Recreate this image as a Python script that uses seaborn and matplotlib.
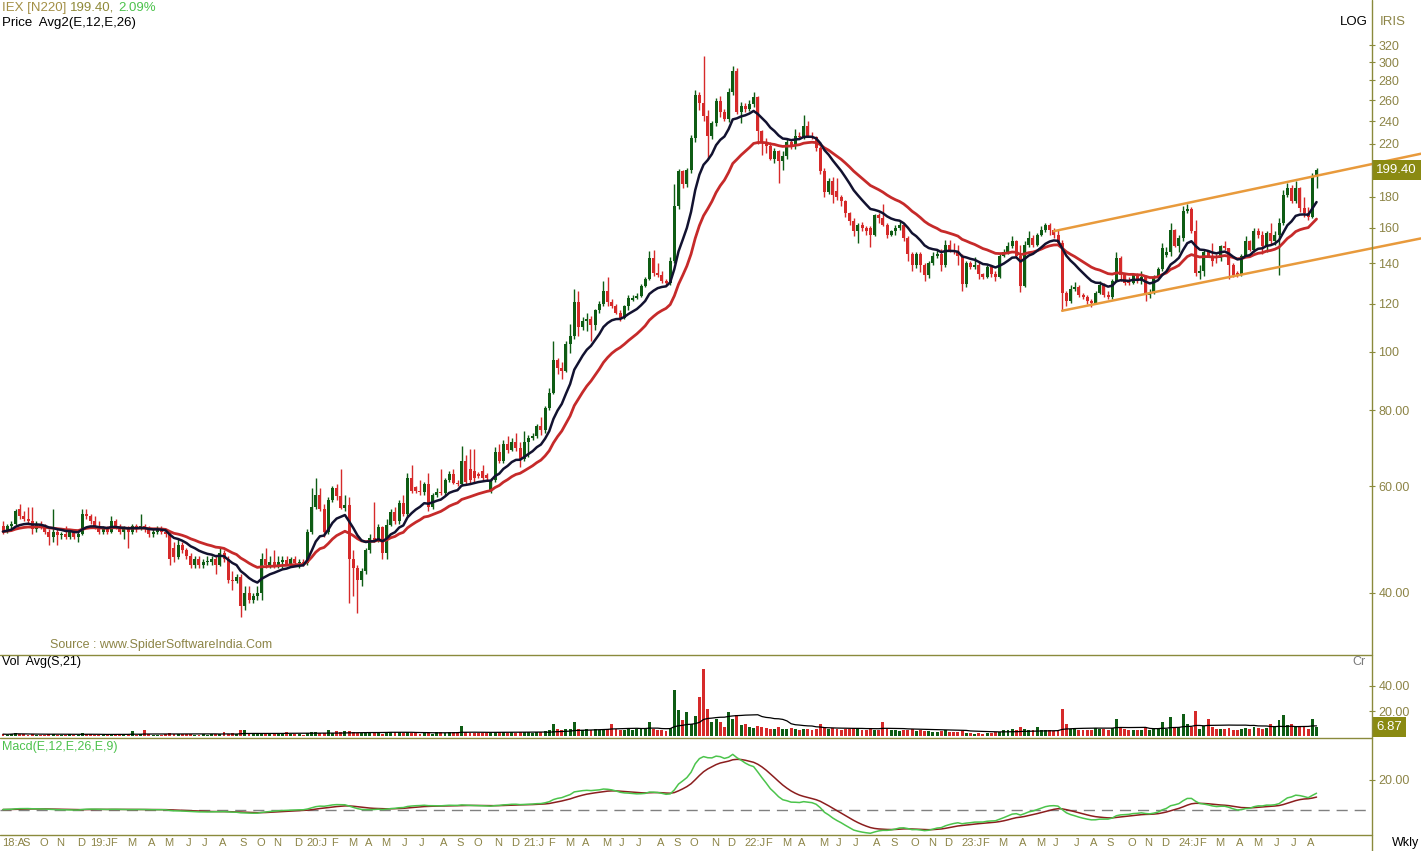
import numpy as np
import pandas as pd
import matplotlib
matplotlib.use("Agg")
import matplotlib.pyplot as plt
from matplotlib.lines import Line2D
from matplotlib.ticker import FixedLocator, FuncFormatter, NullLocator, NullFormatter
import seaborn as sns

# weekly bars, first bar = week of 3 Aug 2018
first_week = "2018-08-03"

opens = [
    51.5, 50.5, 51.5, 52, 55, 53.5, 53, 52.5, 51, 52,
    51.5, 50.5, 49.5, 50.5, 49.8, 50, 49.5, 50.5, 49.5, 50,
    54, 53.5, 52.5, 51.5, 50.5, 51, 50.5, 52.5, 51.5, 50.5,
    51, 50.5, 51.5, 51, 51.5, 51, 50, 50.5, 51, 50.5,
    50, 47.5, 45.8, 48, 47, 46, 44.5, 45.5, 44.5, 45,
    45, 45.5, 44.5, 46.5, 45.5, 42, 41.8, 42.5, 38, 40,
    39, 39.5, 40, 45.5, 44.5, 45, 44.5, 45, 45.3, 44.6,
    45.5, 44.8, 45, 44.8, 50.5, 55.5, 58, 55, 50.5, 57,
    59.5, 57.8, 55.3, 55.8, 45.5, 44, 42, 43.5, 47, 49.3,
    48.8, 51.3, 46.5, 51.8, 54.4, 52.6, 56.2, 54, 62, 59.8,
    59, 58.6, 60.5, 55.5, 58, 58.6, 58.5, 61.4, 62.8, 60.8,
    60.5, 66, 64, 63.5, 62.8, 63.5, 62.6, 59, 61.4, 68.3,
    66, 70.5, 68.7, 71, 69.3, 66.5, 70.9, 72, 72.5, 75.3,
    74.2, 80.6, 85.4, 96.7, 94, 93, 103, 106, 120.6, 110,
    112.5, 113, 110.5, 117, 120, 126, 120.6, 119, 116, 113.6,
    118.8, 121.8, 122.5, 123.5, 128.5, 132, 142.5, 134.6, 134, 131,
    129.8, 141, 174, 198.5, 189, 199, 225, 265, 257, 245,
    227, 238, 259, 248, 242, 268, 290, 248, 254, 251,
    256, 263, 231, 222, 218, 208, 214, 206, 210, 222,
    218, 227, 226, 236, 227, 226, 217, 198.7, 183, 191,
    184, 180, 177, 169, 164, 158, 162, 160, 160, 156,
    168, 166, 162, 156, 158, 160, 162, 154, 145, 139,
    145, 139, 134, 140, 144, 145, 139, 150, 147, 146,
    144, 129.5, 140, 138, 139, 134.5, 133, 138, 134.5, 133,
    143.6, 146, 149.5, 152, 144, 128.5, 150, 154, 150, 156,
    159, 162, 159, 156, 151, 125, 121, 127, 128, 124,
    123, 121.4, 120.5, 125, 129, 124, 123, 131, 142.5, 134,
    131, 130, 134.5, 131, 133, 124, 125, 133, 137, 144.5,
    146, 158.7, 149.5, 154, 170.8, 172, 158.3, 134.6, 136, 146,
    143.6, 144, 142.5, 149.5, 148, 139, 135, 134, 144, 152,
    147, 158, 155.5, 149.5, 157, 152, 156, 163, 181, 186.5,
    177.4, 186.5, 172.7, 169, 167, 195,
]

highs = [
    52.5, 52, 52.5, 55, 56, 54.5, 55.5, 55.5, 52.5, 52.5,
    52, 51, 55, 51, 50.5, 51.5, 51, 51, 50.5, 55,
    55, 54, 53.5, 52.5, 51.5, 51.5, 53.5, 53, 52, 51.5,
    51.5, 52, 52, 54, 52, 51.5, 51, 51.5, 51.5, 51,
    50.5, 48.5, 49, 48.5, 47.5, 46.5, 46, 46, 45.5, 46,
    46, 46, 47.5, 47, 46, 43.5, 43, 43, 41, 41,
    40, 41, 46.5, 47.5, 46, 47, 46, 46, 46, 45.8,
    46, 45.5, 45.5, 51, 59.5, 62, 59.5, 56, 57.5, 60,
    60.5, 64, 58, 57.5, 47, 44.5, 44, 47.5, 50, 56.5,
    52, 51.5, 53, 55, 55.5, 57, 58, 63, 65, 60,
    61.5, 61, 63, 58.5, 59.5, 64, 61.8, 63.5, 64, 61.5,
    70, 67.5, 69, 69, 63.2, 65, 63, 62, 69.5, 70.5,
    71.5, 72.5, 72, 73.5, 71, 74, 73, 73.5, 76, 78,
    81.5, 87, 104, 97.5, 96, 104, 111, 127, 126, 114,
    116, 114.5, 117.5, 121, 131, 133, 122, 120, 117, 119.5,
    124, 124, 125, 129.5, 133, 146.5, 147, 140, 136, 132,
    143, 189, 200, 199, 201, 228, 270, 268, 307, 250,
    240, 262, 264, 251, 272, 296, 294, 258, 257, 260,
    268, 264, 232, 225, 222, 217, 215, 214, 224, 224,
    233, 230, 246, 240, 230, 227, 218, 201, 193, 194,
    193, 181, 178, 170, 166, 163, 163.5, 161, 161, 168.5,
    169, 175, 163, 159, 162, 164, 163, 155, 146, 146,
    146, 140, 141, 146, 147, 147.5, 153, 153, 151, 150,
    145, 141, 141, 143, 141, 135, 139, 139, 136, 145,
    147.5, 151.5, 155, 153, 150, 152, 158, 156, 157, 161,
    163, 163, 160, 159, 153, 126, 129, 130.5, 129, 125,
    124, 122, 126, 131, 130, 126, 132, 146, 144, 134.5,
    133, 135, 135, 136, 134, 127, 134, 138, 151, 149,
    163, 159.5, 156, 174, 175, 173, 165, 139, 147, 147,
    151, 145, 150, 152, 148.5, 140, 136, 145, 155, 153,
    160, 160, 158, 158, 163, 158, 166, 185, 190, 188,
    191, 187, 180, 173, 197, 201,
]

lows = [
    50, 50.3, 51, 51.8, 53, 52.5, 52, 50, 50.5, 51,
    50, 48, 48.5, 48, 49, 49, 49, 49, 48.5, 49.8,
    53, 52, 51, 50, 50, 50, 50.3, 51, 50, 49,
    47.5, 50, 50.5, 50.8, 50.5, 49.5, 49.5, 50, 50, 49.5,
    44.5, 45, 45.5, 46.5, 45.5, 44, 44, 44, 44, 44.5,
    44.5, 43, 44.3, 45, 41.5, 40.5, 41.5, 36.5, 37.5, 38.5,
    38.5, 39, 39, 44, 44, 44, 44, 44, 44.5, 44.3,
    44.5, 44, 44.3, 44.5, 50, 55, 54.5, 49.5, 50, 56.5,
    57, 55, 54.5, 38.5, 39.5, 37, 41, 43, 46.5, 48.5,
    48.5, 45.5, 45.5, 51.5, 52, 52, 53.5, 53.5, 58.5, 58.5,
    58, 58, 54.5, 55, 57.5, 58, 58, 61, 60.5, 60,
    60, 60.5, 60.5, 61, 61.8, 61.5, 61.5, 58.5, 61, 65.5,
    65.5, 68, 68.5, 68.5, 64.5, 66, 67, 71.5, 72, 73,
    73.5, 80, 85, 92, 90, 92.5, 99.5, 105, 106, 108.5,
    108, 104, 108.5, 116, 119, 119, 118, 115.5, 112.5, 113,
    117, 121, 122, 123, 128, 131.5, 133.5, 133, 130, 129,
    129, 140, 172, 186, 187, 197, 222, 250, 240, 208,
    224, 236, 244, 240, 239, 265, 247, 238, 248, 249,
    253, 220, 211, 213, 207, 205, 190, 199, 208, 216,
    216, 225, 224, 226, 224, 214, 196, 180, 182, 176,
    178, 174, 167, 162, 155, 151, 158, 156, 149, 155,
    163, 161, 154, 155, 156, 159, 152, 141, 136, 137.5,
    135.5, 131, 132.5, 139, 142.5, 136, 138, 146, 145, 139,
    126, 128, 137, 137, 132, 132, 132.5, 133, 131, 132.5,
    143, 145, 148, 143, 125.5, 128, 149, 149, 149.5, 155,
    157.5, 156, 154, 150, 116.5, 119, 120.5, 126, 123, 122,
    120, 118.5, 120, 124.5, 123, 122, 122, 130.5, 131, 129,
    129, 129.5, 130, 129.5, 121, 122.5, 124.5, 132.5, 136, 143,
    144, 149, 146, 152, 169, 157, 133.5, 132, 133.5, 143,
    138.5, 140, 141, 147, 132, 133, 133, 133.5, 143, 146.5,
    146, 154, 145, 146, 150.5, 150, 134, 162, 180, 176,
    176, 170, 167, 165, 166, 186,
]

closes = [
    50.5, 51.5, 52, 54.5, 53.5, 53, 52.5, 51, 52, 51.5,
    50.5, 49.5, 50.5, 49.8, 50, 49.5, 50.5, 49.5, 50, 54,
    53.5, 52.5, 51.5, 50.5, 51, 50.5, 52.5, 51.5, 50.5, 51,
    50.5, 51.5, 51, 51.5, 51, 50, 50.5, 51, 50.5, 50,
    45.5, 45.8, 48, 47, 46, 44.5, 45.5, 44.5, 45, 45,
    45.5, 44.5, 46.5, 45.5, 42, 41.8, 42.5, 38, 40, 39,
    39.5, 40, 45.5, 44.5, 45, 44.5, 45, 45.3, 44.6, 45.5,
    44.8, 45, 44.8, 50.5, 55.5, 58, 55, 50.5, 57, 59.5,
    57.8, 55.3, 55.8, 45.5, 44, 42, 43.5, 47, 49.3, 48.8,
    51.3, 46.5, 51.8, 54.4, 52.6, 56.2, 54, 62, 59, 59,
    58.6, 60.5, 55.5, 58, 58.6, 58.5, 61.4, 62.8, 60.8, 60.5,
    66, 61, 61.4, 62, 62.3, 62, 62, 61.4, 68.3, 66,
    70.5, 68.7, 71, 69.3, 66.5, 70.9, 72, 72.5, 75.3, 74.2,
    80.6, 85.4, 96.7, 94, 93, 103, 106, 120.6, 110, 112.5,
    113, 110.5, 117, 120, 126, 120.6, 119, 116, 113.6, 118.8,
    122.5, 122.5, 123.5, 128.5, 132, 142.5, 134.6, 134, 131, 129.8,
    141, 174, 198.5, 189, 199, 225, 265, 257, 245, 227,
    238, 259, 248, 242, 268, 290, 248, 254, 251, 256,
    263, 231, 222, 218, 208, 214, 206, 210, 222, 218,
    227, 226, 236, 227, 226, 217, 198.7, 183, 191, 181.5,
    180, 177, 169, 164, 158, 162, 160, 158, 156, 168,
    166, 162, 156, 158, 160, 162, 154, 145, 139, 145,
    139, 134, 140, 144, 145, 139, 150, 147, 146, 144,
    129.5, 140, 138, 139, 134.5, 133, 138, 134.5, 133, 143.6,
    146, 149.5, 152, 144, 128.5, 150, 154, 150, 156, 159,
    162, 159, 156, 151, 125, 121, 127, 128, 124, 123,
    121.4, 120.5, 125, 129, 124, 123, 131, 142.5, 134, 130,
    130, 134.5, 131, 133, 124, 125, 133, 137, 148, 146,
    158.7, 149.5, 154, 170.8, 172, 158.3, 134.6, 136, 146, 143.6,
    141, 142.5, 149.5, 148, 139, 134, 134, 144, 152, 147,
    158, 155.5, 149.5, 157, 152, 156, 163, 181, 186.5, 177.4,
    186.5, 172.7, 169, 167, 195, 199.4,
]

# volume in crore
volumes = [
    1.5, 1.2, 1.8, 2.5, 1.6, 1.3, 1.2, 1.5, 1.1, 1.0,
    1.2, 1.4, 1.8, 1.2, 1.1, 1.0, 1.3, 1.2, 1.0, 2.2,
    1.6, 1.3, 1.1, 1.0, 1.2, 1.1, 2.0, 1.4, 1.2, 1.1,
    1.2, 4.0, 1.2, 1.5, 4.5, 1.3, 1.1, 1.2, 1.0, 1.3,
    2.5, 2.0, 1.8, 1.4, 1.3, 1.5, 1.2, 1.1, 1.3, 1.2,
    1.4, 1.6, 1.8, 3.0, 2.0, 2.2, 1.8, 5.0, 5.0, 2.0,
    1.8, 1.6, 2.8, 1.8, 1.5, 1.4, 1.6, 1.5, 3.0, 1.6,
    1.4, 1.3, 1.2, 2.8, 3.5, 3.0, 2.5, 2.5, 5.0, 2.5,
    4.0, 3.0, 4.0, 4.0, 3.0, 2.5, 2.2, 2.5, 2.3, 2.6,
    2.2, 2.0, 2.4, 3.5, 3.0, 3.5, 2.4, 3.0, 2.6, 2.2,
    2.0, 2.2, 2.5, 2.0, 3.0, 3.2, 2.8, 3.0, 3.0, 3.5,
    8.0, 3.0, 2.8, 2.6, 2.5, 2.4, 2.2, 2.5, 3.5, 3.0,
    3.2, 2.8, 3.0, 2.6, 3.0, 3.2, 3.0, 2.8, 3.2, 3.0,
    4.0, 4.5, 10.0, 6.0, 5.0, 6.0, 5.5, 11.5, 6.0, 5.0,
    5.5, 5.0, 5.5, 5.0, 6.0, 5.5, 10.0, 5.5, 5.0, 5.0,
    5.5, 5.0, 6.0, 6.5, 6.0, 11.5, 6.0, 5.0, 4.5, 4.0,
    6.5, 37.0, 21.0, 13.0, 19.0, 10.0, 16.0, 31.0, 54.0, 22.0,
    11.0, 14.0, 11.0, 7.0, 19.5, 14.0, 17.0, 9.0, 10.0, 7.0,
    6.5, 8.0, 7.0, 6.5, 6.0, 5.5, 7.0, 6.0, 5.5, 6.5,
    5.5, 5.0, 6.0, 5.5, 5.0, 6.0, 10.0, 7.5, 6.0, 6.5,
    6.0, 5.0, 5.5, 6.0, 6.5, 5.5, 5.0, 4.5, 5.5, 5.0,
    5.0, 11.5, 5.5, 4.5, 5.0, 4.0, 4.5, 5.0, 5.5, 4.0,
    4.5, 4.0, 4.0, 3.5, 3.5, 4.0, 5.0, 3.5, 3.0, 3.0,
    4.0, 2.5, 2.5, 2.0, 2.5, 2.0, 2.5, 2.5, 3.0, 3.5,
    4.5, 5.0, 6.0, 4.5, 7.0, 6.0, 5.0, 4.5, 7.0, 5.0,
    4.5, 4.5, 4.0, 5.0, 22.0, 10.0, 6.0, 5.5, 5.0, 4.5,
    5.0, 5.0, 6.5, 6.0, 5.5, 5.0, 6.5, 14.0, 7.0, 5.5,
    5.0, 5.0, 4.5, 5.0, 6.5, 5.0, 5.5, 6.5, 11.0, 6.0,
    15.0, 7.0, 7.0, 18.0, 10.0, 7.5, 20.0, 6.0, 8.0, 14.0,
    7.0, 5.5, 6.0, 5.5, 6.5, 5.0, 5.0, 6.0, 6.5, 5.5,
    7.0, 6.5, 6.0, 6.5, 10.0, 7.0, 13.0, 17.0, 9.0, 10.0,
    7.0, 8.0, 8.0, 6.0, 14.0, 6.87,
]

# channel lines drawn on the chart (bar index, price at each end)
upper_channel_x = [252, 340]
upper_channel_y = [158.0, 212.0]
lower_channel_x = [254, 340]
lower_channel_y = [116.8, 153.7]

price_ticks = [40, 60, 80, 100, 120, 140, 160, 180, 220, 240, 260, 280, 300, 320]
vol_ticks = [20, 40]
macd_ticks = [20]

last_price = 199.40
pct_change = 2.09
last_volume = 6.87

GREEN = "#0e5c14"
RED = "#d62a2a"
OLIVE = "#8a8a3c"
LABEL = "#8c8446"
BOX = "#8a8a12"

df = pd.DataFrame({"open": opens, "high": highs, "low": lows,
                   "close": closes, "volume": volumes})
df["date"] = pd.date_range(first_week, periods=len(df), freq="W-FRI")
df["i"] = np.arange(len(df))
df["ema12"] = df["close"].ewm(span=12, adjust=False).mean()
df["ema26"] = df["close"].ewm(span=26, adjust=False).mean()
df["macd"] = df["ema12"] - df["ema26"]
df["signal"] = df["macd"].ewm(span=9, adjust=False).mean()
df["vol_avg"] = df["volume"].rolling(21, min_periods=1).mean()
colors = np.where(df["close"] >= df["open"], GREEN, RED)

sns.set_style("white")
plt.rcParams["font.family"] = ["Liberation Sans", "DejaVu Sans"]

W, H = 1421, 851
fig = plt.figure(figsize=(W / 100, H / 100), dpi=100)


def place(x0, y0, x1, y1):
    return [x0 / W, 1 - y1 / H, (x1 - x0) / W, (y1 - y0) / H]


ax_p = fig.add_axes(place(0, 35, 1372, 655))
ax_v = fig.add_axes(place(0, 655, 1372, 738), sharex=ax_p)
ax_m = fig.add_axes(place(0, 738, 1372, 835), sharex=ax_p)

# price candles + averages
ax_p.set_yscale("log")
ax_p.vlines(df["i"], df["low"], df["high"], colors=colors, linewidth=1.0)
body_lo = np.minimum(df["open"], df["close"])
body_h = np.maximum((df["close"] - df["open"]).abs(), df["close"] * 0.004)
ax_p.bar(df["i"], body_h, bottom=body_lo, width=0.72, color=colors, linewidth=0)
sns.lineplot(data=df, x="i", y="ema26", ax=ax_p, color="#c62a2a", linewidth=2.0, legend=False)
sns.lineplot(data=df, x="i", y="ema12", ax=ax_p, color="#121230", linewidth=1.8, legend=False)
ax_p.plot(upper_channel_x, upper_channel_y, color="#e89a3c", linewidth=1.8, clip_on=False, zorder=4)
ax_p.plot(lower_channel_x, lower_channel_y, color="#e89a3c", linewidth=1.8, clip_on=False, zorder=4)
ax_p.set_ylim(31.6, 332.8)

# volume
ax_v.bar(df["i"], df["volume"], width=0.7, color=colors, linewidth=0)
sns.lineplot(data=df, x="i", y="vol_avg", ax=ax_v, color="black", linewidth=0.9, legend=False)
ax_v.set_ylim(-1.6, 64.8)

# macd
ax_m.axhline(0, color="#808080", linewidth=1, linestyle=(0, (8, 5)))
sns.lineplot(data=df, x="i", y="signal", ax=ax_m, color="#8b1e1e", linewidth=1.1, legend=False)
sns.lineplot(data=df, x="i", y="macd", ax=ax_m, color="#4cc44c", linewidth=1.1, legend=False)
ax_m.set_ylim(-17.2, 48.3)

for ax in (ax_p, ax_v, ax_m):
    for s in ax.spines.values():
        s.set_visible(False)
    ax.set_xlabel("")
    ax.set_ylabel("")
    ax.grid(False)
    ax.yaxis.tick_right()
    ax.tick_params(axis="y", which="both", direction="inout", length=5, width=0.8,
                   color=OLIVE, labelcolor=LABEL, labelsize=9, pad=2)

ax_p.yaxis.set_major_locator(FixedLocator(price_ticks))
ax_p.yaxis.set_minor_locator(NullLocator())
ax_p.yaxis.set_major_formatter(FuncFormatter(lambda v, _: f"{v:.2f}" if v < 100 else f"{v:.0f}"))
ax_v.yaxis.set_major_locator(FixedLocator(vol_ticks))
ax_v.yaxis.set_major_formatter(FuncFormatter(lambda v, _: f"{v:.2f}"))
ax_m.yaxis.set_major_locator(FixedLocator(macd_ticks))
ax_m.yaxis.set_major_formatter(FuncFormatter(lambda v, _: f"{v:.2f}"))

# month ticks: one letter per month, year prefix on January
new_month = df["date"].dt.month != df["date"].dt.month.shift()
month_rows = df[new_month]
tick_pos = (month_rows["i"] - 0.5).tolist()
ax_m.xaxis.set_major_locator(FixedLocator(tick_pos))
ax_m.xaxis.set_major_formatter(NullFormatter())
for ax in (ax_p, ax_v):
    ax.tick_params(axis="x", bottom=False, labelbottom=False)
ax_m.tick_params(axis="x", direction="out", length=3, width=0.8, color=OLIVE)
ax_p.set_xlim(-0.72, 328.3)

for k, (pos, d) in enumerate(zip(tick_pos, month_rows["date"])):
    letter = "JFMAMJJASOND"[d.month - 1]
    if k == 0 or d.month == 1:
        letter = f"{d.year % 100:02d}:{letter}"
        dx = -3 if k else 1
    else:
        dx = 1
    ax_m.annotate(letter, xy=(pos, 0), xycoords=ax_m.get_xaxis_transform(),
                  xytext=(dx, -3), textcoords="offset pixels", ha="left", va="top",
                  fontsize=8, color=LABEL, annotation_clip=False)

# last value boxes
ax_p.annotate(f"{last_price:.2f}", xy=(1, last_price), xycoords=ax_p.get_yaxis_transform(),
              xytext=(4, 0), textcoords="offset pixels", ha="left", va="center",
              color="white", fontsize=9.5, annotation_clip=False, zorder=6,
              bbox=dict(boxstyle="square,pad=0.3", fc=BOX, ec="none"))
ax_v.annotate(f"{last_volume:.2f}", xy=(1, last_volume), xycoords=ax_v.get_yaxis_transform(),
              xytext=(4, 0), textcoords="offset pixels", ha="left", va="center",
              color="white", fontsize=9.5, annotation_clip=False, zorder=6,
              bbox=dict(boxstyle="square,pad=0.3", fc=BOX, ec="none"))

# panel borders
for y in (655, 738, 835):
    fig.add_artist(Line2D([0, 1372 / W], [1 - y / H] * 2, color=OLIVE, linewidth=1))
fig.add_artist(Line2D([1372 / W] * 2, [0, 1], color=OLIVE, linewidth=1))


def ftext(x, y, s, **kw):
    fig.text(x / W, 1 - y / H, s, va="center", **kw)


ftext(2, 8, "IEX [N220]", color="#a38f45", fontsize=9.5)
ftext(70, 8, f"{last_price:.2f},", color="#8f8a3a", fontsize=9.5)
ftext(118, 8, f"{pct_change:.2f}%", color="#4cc24c", fontsize=9.5)
ftext(2, 23, "Price  Avg2(E,12,E,26)", color="black", fontsize=9.5)
ftext(1368, 22, "LOG", ha="right", color="black", fontsize=9.5)
ftext(1380, 22, "IRIS", color=LABEL, fontsize=9.5)
ftext(50, 645, "Source : www.SpiderSoftwareIndia.Com", color=LABEL, fontsize=9)
ftext(2, 662, "Vol  Avg(S,21)", color="black", fontsize=9)
ftext(1352, 662, "Cr", color="#7a7a7a", fontsize=9)
ftext(2, 747, "Macd(E,12,E,26,E,9)", color="#4cc24c", fontsize=9)
ftext(1392, 843, "Wkly", color="black", fontsize=9)

fig.savefig("out.png", dpi=100)
